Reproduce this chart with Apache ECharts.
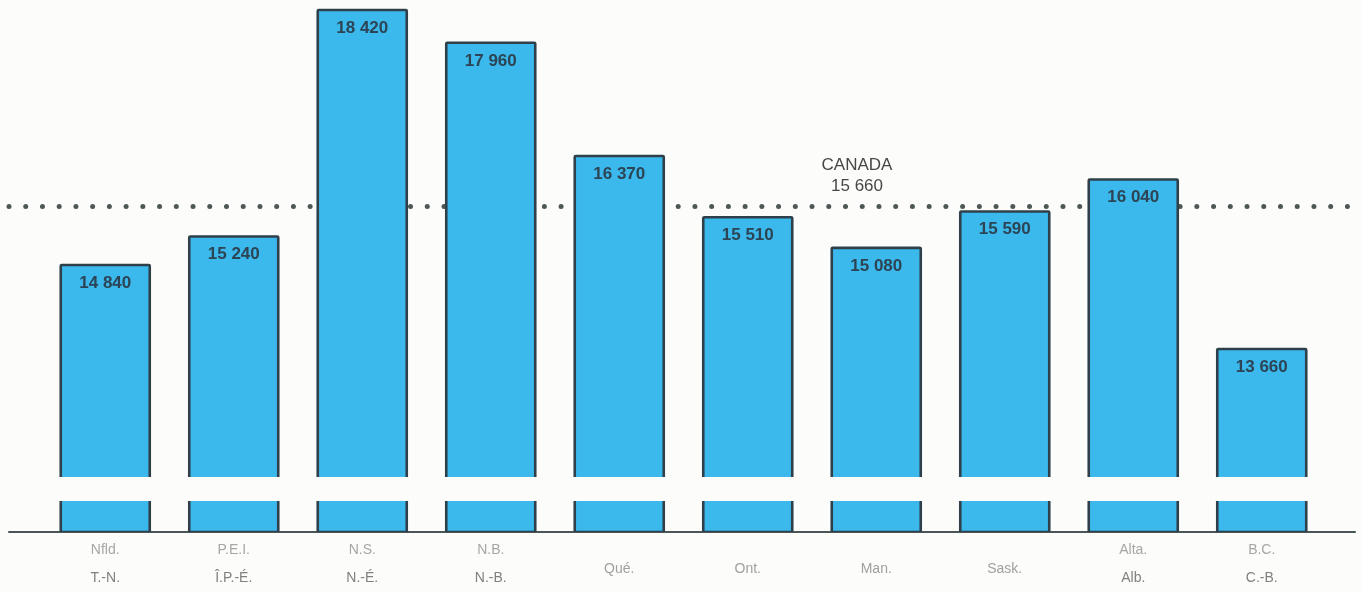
<!DOCTYPE html>
<html>
<head>
<meta charset="utf-8">
<script src="https://cdn.jsdelivr.net/npm/echarts@6/dist/echarts.min.js"></script>
<style>
  html, body { margin: 0; padding: 0; background: #fcfcfa; }
  #chart { width: 1362px; height: 592px; }
</style>
</head>
<body>
<div id="chart"></div>
<script>
// ---- data ----
const catTop = ['Nfld.', 'P.E.I.', 'N.S.', 'N.B.', 'Qué.', 'Ont.', 'Man.', 'Sask.', 'Alta.', 'B.C.'];
const catBottom = ['T.-N.', 'Î.P.-É.', 'N.-É.', 'N.-B.', '', '', '', '', 'Alb.', 'C.-B.'];
const values = [14840, 15240, 18420, 17960, 16370, 15510, 15080, 15590, 16040, 13660];
const canadaLabel = 'CANADA';
const canadaValue = 15660;

const categories = catTop.map((t, i) => catBottom[i] ? t + '\n' + catBottom[i] : t);
const fmt = v => String(v).replace(/\B(?=(\d{3})+(?!\d))/g, ' ');
const seriesData = values.map((v, i) => [i, v]);

const FONT = '"Liberation Sans", Arial, Helvetica, sans-serif';
const barColor = '#3bb8ec';
const barBorder = '#2f404b';
const BAR_W = 89;

function makeRender(withLabel) {
  return function (params, api) {
    const idx = api.value(0);
    const val = api.value(1);
    const top = api.coord([idx, val]);
    const base = api.coord([idx, 0]);
    const rect = {
      type: 'rect',
      shape: { x: top[0] - BAR_W / 2, y: top[1], width: BAR_W, height: base[1] - top[1], r: 1 },
      style: { fill: barColor, stroke: barBorder, lineWidth: 2.6 }
    };
    if (withLabel) {
      rect.textContent = {
        style: {
          text: fmt(val), fill: '#2c4454',
          font: 'bold 17px ' + FONT
        }
      };
      rect.textConfig = { position: 'insideTop', distance: 11 };
    }
    return rect;
  };
}

const chart = echarts.init(document.getElementById('chart'));
chart.setOption({
  backgroundColor: '#fcfcfa',
  animation: false,
  grid: [
    { left: 41, width: 1285, top: 5, height: 472 },    // upper part of bars
    { left: 41, width: 1285, top: 501, height: 31 },   // stub below the break
    { left: 9, width: 1346, top: 10, height: 522 }     // full-width baseline / average line
  ],
  xAxis: [
    { type: 'category', gridIndex: 0, data: categories, show: false },
    {
      type: 'category', gridIndex: 1, data: categories,
      axisLine: { show: false }, axisTick: { show: false },
      axisLabel: {
        margin: 32, verticalAlign: 'middle', interval: 0,
        fontFamily: FONT, fontSize: 14,
        formatter: (val, i) => {
          if (catBottom[i]) return '{a|' + catTop[i] + '}\n{b|' + catBottom[i] + '}';
          return '{s|' + catTop[i] + '}';
        },
        rich: {
          a: { color: '#a6a6a6', fontSize: 14, lineHeight: 28, fontFamily: FONT },
          b: { color: '#808080', fontSize: 14, lineHeight: 28, fontFamily: FONT },
          s: { color: '#a0a0a0', fontSize: 14, lineHeight: 28, padding: [10, 0, 0, 0], fontFamily: FONT }
        }
      }
    },
    {
      type: 'value', gridIndex: 2, min: 0, max: 1,
      axisLine: { show: true, onZero: false, lineStyle: { color: '#4a5656', width: 2 } },
      axisTick: { show: false }, axisLabel: { show: false }, splitLine: { show: false }
    }
  ],
  yAxis: [
    { type: 'value', gridIndex: 0, min: 11863, max: 18490, show: false, splitLine: { show: false } },
    { type: 'value', gridIndex: 1, min: 0, max: 100, show: false, splitLine: { show: false } },
    { type: 'value', gridIndex: 2, min: 11090, max: 18420, show: false, splitLine: { show: false } }
  ],
  graphic: [{
    type: 'text',
    x: 857, y: 155, z: 10,
    style: {
      text: canadaLabel + '\n' + fmt(canadaValue),
      align: 'center',
      verticalAlign: 'top',
      fill: '#474747',
      font: '17px ' + FONT,
      lineHeight: 21
    }
  }],
  series: [
    {
      type: 'line', xAxisIndex: 2, yAxisIndex: 2, z: 1,
      data: [[0, canadaValue], [1, canadaValue]],
      symbol: 'none', silent: true,
      lineStyle: { color: '#4e5656', width: 5, type: [0.01, 16.72], cap: 'round' }
    },
    {
      type: 'custom', xAxisIndex: 0, yAxisIndex: 0, z: 3, clip: true,
      data: seriesData, renderItem: makeRender(true)
    },
    {
      type: 'custom', xAxisIndex: 1, yAxisIndex: 1, z: 3, clip: true,
      data: seriesData, renderItem: makeRender(false)
    }
  ]
});
</script>
</body>
</html>
